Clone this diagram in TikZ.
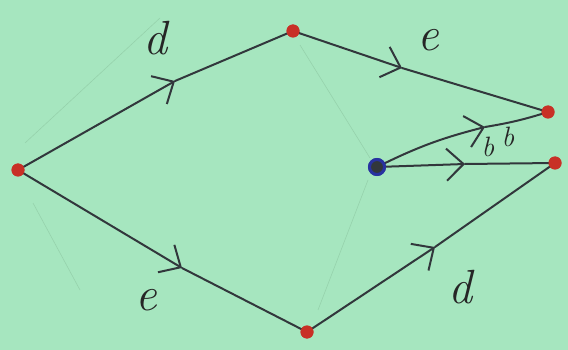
\documentclass[tikz,border=0pt]{standalone}
\usetikzlibrary{arrows.meta}
\definecolor{bgc}{RGB}{166,230,191}
\definecolor{ink}{RGB}{50,55,60}
\definecolor{pencil}{RGB}{150,210,172}
\definecolor{reddot}{RGB}{200,48,38}
\definecolor{bluedot}{RGB}{40,50,160}
\tikzset{
  edge/.style={draw=ink, line width=2pt, line cap=round, line join=round},
  tipped/.style={edge, -{Straight Barb[length=17pt,width=32pt,line width=2pt]}},
  faint/.style={draw=pencil, line width=0.6pt},
  rdot/.style={circle, fill=reddot, inner sep=0pt, minimum size=13pt},
  bdot/.style={circle, draw=bluedot, fill=ink, line width=3pt, inner sep=0pt, minimum size=15pt},
  lbl/.style={font=\fontsize{48}{48}\selectfont\itshape, text=black!85, inner sep=0pt},
  slbl/.style={font=\fontsize{28}{28}\selectfont\itshape, text=black!85, inner sep=0pt}
}
\begin{document}
\begin{tikzpicture}[x=1pt,y=-1pt]
\fill[bgc] (0,0) rectangle (568,350);
\useasboundingbox (0,0) rectangle (568,350);
% faint pencil guide lines
\draw[faint] (25,143) -- (160,18);
\draw[faint] (300,45) -- (370,158);
\draw[faint] (368,180) -- (318,310);
\draw[faint] (33,203) -- (80,290);
% nodes
\node[rdot] (L) at (18,170) {};
\node[rdot] (T) at (293,31) {};
\node[rdot] (B) at (307,332) {};
\node[rdot] (RT) at (548,112) {};
\node[rdot] (RB) at (555,163) {};
\node[bdot] (Q) at (377,167) {};
% arrow tips (mid points of the edges)
\coordinate (m1) at (175,81);
\coordinate (m2) at (402,68);
\coordinate (m3) at (182,268);
\coordinate (m4) at (435,247);
\coordinate (m5) at (485,127);
\coordinate (m6) at (465,164);
% connectors
\draw[tipped] (L.center) -- (m1);
\draw[edge] (m1) -- (T.center);
\draw[tipped] (T.center) -- (m2);
\draw[edge] (m2) -- (RT.center);
\draw[tipped] (L.center) -- (m3);
\draw[edge] (m3) -- (B.center);
\draw[tipped] (B.center) -- (m4);
\draw[edge] (m4) -- (RB.center);
\draw[tipped] (Q.center) to[bend left=6] (m5);
\draw[edge] (m5) to[bend right=4] (RT.center);
\draw[tipped] (Q.center) -- (m6);
\draw[edge] (m6) -- (RB.center);
% redraw dots on top
\node[rdot] at (L) {};
\node[rdot] at (T) {};
\node[rdot] at (B) {};
\node[rdot] at (RT) {};
\node[rdot] at (RB) {};
\node[bdot] at (Q) {};
% labels
\node[lbl] (ld1) at (155,38) {d};
\node[lbl] (le1) at (428,40) {e};
\node[lbl] (le2) at (146,300) {e};
\node[lbl] (ld2) at (460,287) {d};
\node[slbl] (lb1) at (488,147) {b};
\node[slbl] (lb2) at (508,137) {b};
\end{tikzpicture}
\end{document}
